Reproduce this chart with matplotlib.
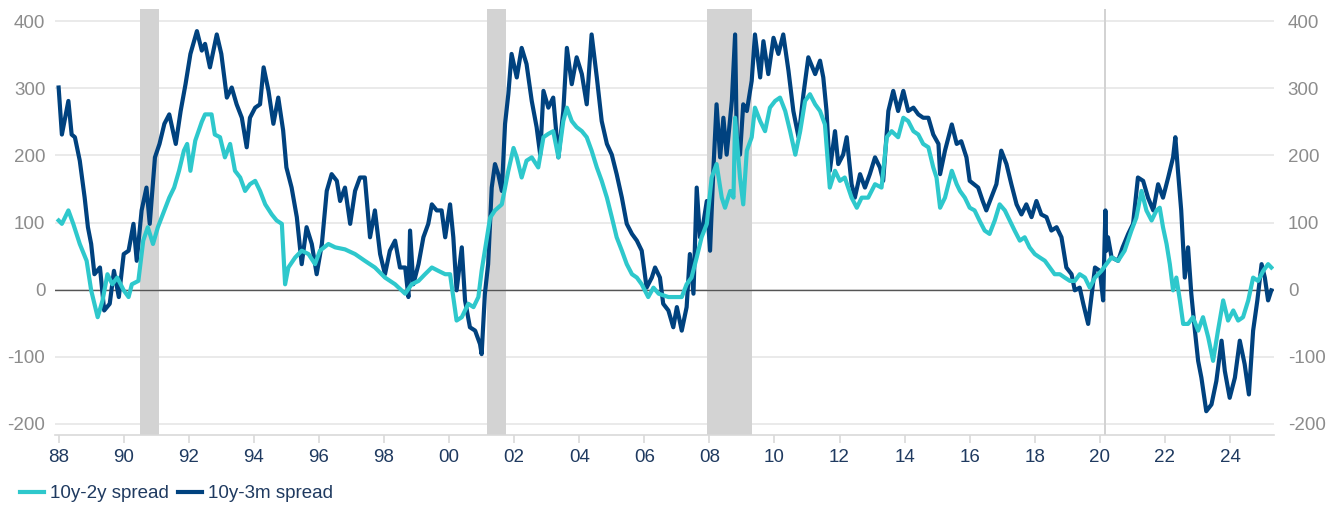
import matplotlib
matplotlib.use("Agg")
import matplotlib.pyplot as plt

plt.rcParams["font.family"] = ["Liberation Sans", "DejaVu Sans"]

# 10y-3m spread (bp)
navy_years = [
    1988.00, 1988.10, 1988.30, 1988.40, 1988.50, 1988.65, 1988.80, 1988.90, 1989.00, 1989.10,
    1989.27, 1989.40, 1989.57, 1989.70, 1989.85, 1990.00, 1990.15, 1990.30, 1990.40, 1990.55,
    1990.70, 1990.80, 1990.96, 1991.10, 1991.25, 1991.40, 1991.60, 1991.75, 1991.90, 1992.05,
    1992.25, 1992.40, 1992.50, 1992.65, 1992.86, 1993.00, 1993.17, 1993.32, 1993.47, 1993.63,
    1993.78, 1993.88, 1994.04, 1994.19, 1994.30, 1994.45, 1994.60, 1994.75, 1994.90, 1995.00,
    1995.16, 1995.32, 1995.47, 1995.62, 1995.78, 1995.93, 1996.09, 1996.24, 1996.39, 1996.55,
    1996.65, 1996.80, 1996.96, 1997.11, 1997.26, 1997.41, 1997.57, 1997.72, 1997.88, 1998.03,
    1998.18, 1998.34, 1998.49, 1998.65, 1998.75, 1998.80, 1998.90, 1999.06, 1999.21, 1999.36,
    1999.47, 1999.62, 1999.77, 1999.88, 2000.03, 2000.13, 2000.23, 2000.39, 2000.49, 2000.64,
    2000.80, 2000.95, 2001.00, 2001.10, 2001.20, 2001.31, 2001.41, 2001.51, 2001.62, 2001.72,
    2001.82, 2001.92, 2002.08, 2002.23, 2002.38, 2002.54, 2002.69, 2002.80, 2002.90, 2003.05,
    2003.20, 2003.36, 2003.51, 2003.62, 2003.77, 2003.92, 2004.08, 2004.23, 2004.38, 2004.54,
    2004.69, 2004.85, 2005.00, 2005.15, 2005.31, 2005.46, 2005.62, 2005.77, 2005.92, 2006.07,
    2006.23, 2006.33, 2006.48, 2006.58, 2006.74, 2006.89, 2007.00, 2007.15, 2007.30, 2007.40,
    2007.51, 2007.61, 2007.71, 2007.81, 2007.92, 2008.02, 2008.12, 2008.22, 2008.33, 2008.43,
    2008.53, 2008.69, 2008.79, 2008.84, 2008.94, 2009.04, 2009.15, 2009.30, 2009.40, 2009.56,
    2009.66, 2009.81, 2009.97, 2010.12, 2010.27, 2010.43, 2010.58, 2010.74, 2010.89, 2011.04,
    2011.25, 2011.40, 2011.50, 2011.60, 2011.70, 2011.86, 2011.96, 2012.11, 2012.22, 2012.37,
    2012.47, 2012.63, 2012.78, 2012.93, 2013.09, 2013.24, 2013.34, 2013.50, 2013.65, 2013.80,
    2013.96, 2014.11, 2014.27, 2014.42, 2014.57, 2014.73, 2014.88, 2015.04, 2015.09, 2015.24,
    2015.45, 2015.60, 2015.74, 2015.90, 2016.00, 2016.26, 2016.40, 2016.51, 2016.66, 2016.82,
    2016.97, 2017.13, 2017.28, 2017.44, 2017.59, 2017.74, 2017.90, 2018.05, 2018.20, 2018.36,
    2018.51, 2018.67, 2018.82, 2018.97, 2019.13, 2019.23, 2019.38, 2019.49, 2019.64, 2019.74,
    2019.85, 2020.00, 2020.10, 2020.17, 2020.20, 2020.25, 2020.36, 2020.56, 2020.70, 2020.87,
    2021.02, 2021.17, 2021.33, 2021.48, 2021.64, 2021.79, 2021.94, 2022.10, 2022.25, 2022.32,
    2022.40, 2022.50, 2022.61, 2022.71, 2022.81, 2022.91, 2023.02, 2023.12, 2023.27, 2023.43,
    2023.58, 2023.74, 2023.84, 2023.99, 2024.15, 2024.30, 2024.45, 2024.58, 2024.71, 2024.84,
    2024.97, 2025.07, 2025.17, 2025.27,
]
navy_bp = [
    301, 231, 281, 231, 227, 192, 137, 93, 68, 23,
    33, -31, -21, 28, -11, 53, 58, 98, 43, 118,
    152, 98, 197, 217, 247, 261, 217, 266, 306, 351,
    385, 356, 366, 331, 380, 351, 286, 301, 276, 256,
    212, 256, 271, 276, 331, 296, 247, 286, 237, 182,
    152, 108, 38, 93, 68, 23, 68, 147, 172, 162,
    132, 152, 98, 147, 167, 167, 78, 118, 53, 23,
    58, 73, 33, 33, -11, 88, 8, 38, 78, 98,
    127, 118, 118, 78, 127, 78, -1, 63, -16, -56,
    -61, -81, -96, -6, 38, 152, 187, 172, 147, 247,
    291, 351, 316, 360, 336, 281, 242, 201, 296, 271,
    286, 197, 266, 360, 306, 346, 321, 276, 380, 316,
    251, 217, 201, 172, 137, 98, 83, 73, 58, 3,
    18, 33, 18, -21, -31, -56, -26, -61, -26, 53,
    -6, 152, 78, 98, 132, 58, 177, 276, 197, 256,
    201, 281, 380, 227, 201, 276, 266, 311, 380, 316,
    370, 321, 375, 351, 380, 326, 266, 227, 291, 346,
    321, 341, 316, 266, 177, 236, 187, 201, 227, 157,
    137, 172, 152, 172, 197, 182, 162, 266, 296, 266,
    296, 266, 271, 261, 256, 256, 231, 217, 172, 207,
    246, 217, 221, 197, 162, 152, 132, 118, 137, 157,
    207, 187, 157, 127, 112, 127, 108, 132, 112, 108,
    88, 93, 78, 33, 23, -1, 3, -21, -51, -11,
    33, 28, -16, 118, 58, 78, 48, 43, 63, 83,
    98, 167, 162, 137, 118, 157, 137, 167, 197, 227,
    177, 118, 18, 63, -6, -56, -106, -131, -181, -171,
    -136, -76, -121, -161, -131, -76, -111, -156, -61, -16,
    38, 18, -16, -1,
]

# 10y-2y spread (bp)
teal_years = [
    1988.00, 1988.10, 1988.30, 1988.45, 1988.65, 1988.86, 1989.00, 1989.10, 1989.20, 1989.35,
    1989.50, 1989.65, 1989.80, 1990.00, 1990.15, 1990.25, 1990.45, 1990.60, 1990.74, 1990.90,
    1991.05, 1991.25, 1991.40, 1991.55, 1991.70, 1991.85, 1991.95, 1992.05, 1992.20, 1992.40,
    1992.50, 1992.70, 1992.80, 1992.96, 1993.11, 1993.27, 1993.42, 1993.58, 1993.73, 1993.88,
    1994.04, 1994.19, 1994.35, 1994.55, 1994.70, 1994.86, 1994.96, 1995.06, 1995.27, 1995.47,
    1995.68, 1995.88, 1996.03, 1996.29, 1996.50, 1996.80, 1997.11, 1997.41, 1997.72, 1998.03,
    1998.34, 1998.65, 1998.85, 1999.06, 1999.26, 1999.47, 1999.67, 1999.88, 2000.03, 2000.13,
    2000.23, 2000.39, 2000.59, 2000.75, 2000.90, 2001.00, 2001.10, 2001.26, 2001.41, 2001.62,
    2001.82, 2001.98, 2002.08, 2002.23, 2002.38, 2002.54, 2002.74, 2002.90, 2003.05, 2003.20,
    2003.36, 2003.51, 2003.62, 2003.77, 2003.92, 2004.08, 2004.23, 2004.38, 2004.54, 2004.69,
    2004.85, 2005.00, 2005.15, 2005.31, 2005.46, 2005.62, 2005.77, 2005.92, 2006.12, 2006.28,
    2006.44, 2006.74, 2006.94, 2007.15, 2007.30, 2007.45, 2007.61, 2007.76, 2007.92, 2008.07,
    2008.22, 2008.38, 2008.48, 2008.64, 2008.74, 2008.79, 2008.94, 2009.04, 2009.15, 2009.30,
    2009.40, 2009.56, 2009.71, 2009.86, 2010.02, 2010.17, 2010.33, 2010.48, 2010.64, 2010.79,
    2010.94, 2011.09, 2011.25, 2011.40, 2011.55, 2011.70, 2011.86, 2012.01, 2012.16, 2012.37,
    2012.53, 2012.68, 2012.88, 2013.09, 2013.29, 2013.45, 2013.60, 2013.80, 2013.96, 2014.11,
    2014.27, 2014.42, 2014.57, 2014.73, 2014.88, 2014.98, 2015.09, 2015.24, 2015.45, 2015.60,
    2015.70, 2015.85, 2016.00, 2016.15, 2016.30, 2016.46, 2016.61, 2016.77, 2016.92, 2017.08,
    2017.23, 2017.38, 2017.54, 2017.69, 2017.84, 2018.00, 2018.15, 2018.31, 2018.46, 2018.61,
    2018.77, 2018.92, 2019.08, 2019.23, 2019.38, 2019.54, 2019.69, 2019.85, 2020.05, 2020.20,
    2020.36, 2020.56, 2020.76, 2020.97, 2021.12, 2021.28, 2021.43, 2021.59, 2021.74, 2021.84,
    2021.94, 2022.05, 2022.15, 2022.25, 2022.35, 2022.46, 2022.56, 2022.71, 2022.86, 2023.02,
    2023.17, 2023.33, 2023.48, 2023.63, 2023.79, 2023.94, 2024.10, 2024.25, 2024.40, 2024.56,
    2024.71, 2024.86, 2025.02, 2025.17, 2025.27,
]
teal_bp = [
    103, 98, 118, 98, 68, 43, -1, -21, -41, -16,
    23, 8, 18, -1, -11, 8, 13, 73, 93, 68,
    93, 118, 137, 152, 177, 207, 217, 177, 222, 250,
    261, 261, 231, 227, 197, 217, 177, 167, 147, 157,
    162, 147, 127, 112, 103, 98, 8, 33, 48, 58,
    53, 38, 58, 68, 63, 60, 53, 43, 33, 18,
    8, -6, 8, 13, 23, 33, 28, 23, 23, -11,
    -46, -41, -21, -26, -11, 28, 58, 107, 118, 127,
    177, 211, 197, 167, 192, 197, 182, 227, 232, 236,
    197, 251, 271, 251, 242, 236, 227, 207, 182, 162,
    137, 108, 78, 58, 38, 23, 18, 8, -11, 3,
    -6, -11, -11, -11, 8, 18, 48, 78, 98, 167,
    187, 137, 122, 147, 137, 256, 167, 127, 207, 227,
    271, 251, 236, 271, 281, 286, 266, 236, 201, 236,
    281, 291, 276, 266, 246, 152, 177, 162, 167, 137,
    122, 137, 137, 157, 152, 227, 236, 227, 256, 251,
    236, 231, 217, 212, 182, 167, 122, 137, 177, 157,
    147, 137, 122, 118, 103, 88, 83, 103, 127, 118,
    103, 88, 73, 78, 63, 53, 48, 43, 33, 23,
    23, 18, 13, 13, 23, 18, 3, 18, 28, 38,
    48, 43, 58, 88, 107, 147, 118, 103, 118, 122,
    93, 68, 38, -1, 18, -16, -51, -51, -41, -61,
    -41, -71, -106, -61, -16, -46, -31, -46, -41, -16,
    18, 13, 28, 38, 33,
]

# NBER recessions (decimal years)
rec_start = [1990.50, 2001.17, 2007.92, 2020.12]
rec_end = [1991.09, 2001.75, 2009.31, 2020.19]

tick_years = list(range(1988, 2025, 2))
tick_labels = [f"{y % 100:02d}" for y in tick_years]
y_ticks = [-200, -100, 0, 100, 200, 300, 400]

TEAL = "#2EC8CC"
NAVY = "#00427F"
GRAY_TXT = "#8C8C8C"
XLAB = "#1F3A60"

fig = plt.figure(figsize=(13.33, 5.09), dpi=100)
ax = fig.add_axes([0.0413, 0.1454, 0.9144, 0.8369])

for s, e in zip(rec_start, rec_end):
    ax.axvspan(s, e, color="#D3D3D3", lw=0, zorder=1)
ax.axhline(0, color="#555555", lw=1.0, zorder=2)

ax.plot(navy_years, navy_bp, color=NAVY, lw=3.0, zorder=3, label="10y-3m spread",
        solid_joinstyle="round")
ax.plot(teal_years, teal_bp, color=TEAL, lw=3.0, zorder=4, label="10y-2y spread",
        solid_joinstyle="round")

ax.set_xlim(1987.89, 2025.35)
ax.set_ylim(-216.4, 417.9)
ax.set_yticks(y_ticks)
ax.set_yticklabels([str(v) for v in y_ticks])
ax.set_xticks(tick_years)
ax.set_xticklabels(tick_labels)
ax.grid(axis="y", color="#E6E6E6", lw=1.2, zorder=0)
ax.set_axisbelow(True)
for sp in ("top", "left", "right"):
    ax.spines[sp].set_visible(False)
ax.spines["bottom"].set_color("#D9D9D9")
ax.spines["bottom"].set_linewidth(1.2)
ax.tick_params(axis="y", length=0, pad=7, labelsize=13.5, labelcolor=GRAY_TXT)
ax.tick_params(axis="x", length=6, width=1.2, color="#D9D9D9", pad=4, labelsize=13.5, labelcolor=XLAB)

ax2 = ax.twinx()
ax2.set_ylim(ax.get_ylim())
ax2.set_yticks(y_ticks)
ax2.set_yticklabels([str(v) for v in y_ticks])
for sp in ax2.spines.values():
    sp.set_visible(False)
ax2.tick_params(axis="y", length=0, pad=10, labelsize=13.5, labelcolor=GRAY_TXT)

h, l = ax.get_legend_handles_labels()
leg = fig.legend(h[::-1], l[::-1], loc="center left", bbox_to_anchor=(0.002, 0.03), ncol=2,
                 frameon=False, fontsize=13.5, handlelength=1.3, handletextpad=0.3,
                 columnspacing=0.5)
for t in leg.get_texts():
    t.set_color(XLAB)
for ln in leg.get_lines():
    ln.set_linewidth(3)

fig.savefig("out.png", dpi=100)
